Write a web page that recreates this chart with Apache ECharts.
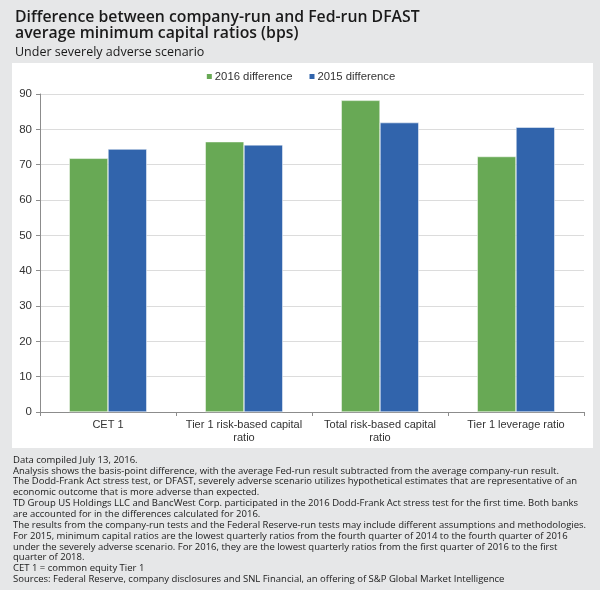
<!DOCTYPE html>
<html>
<head>
<meta charset="utf-8">
<script src="https://cdn.jsdelivr.net/npm/echarts@6/dist/echarts.min.js"></script>
<style>
  html, body { margin: 0; padding: 0; background: #e6e7e8; }
  #main { width: 600px; height: 590px; }
</style>
</head>
<body>
<div id="main"></div>
<script>
// categories and values (bps)
var categories = ['CET 1', 'Tier 1 risk-based capital\nratio', 'Total risk-based capital\nratio', 'Tier 1 leverage ratio'];
var diff2016 = [71.8, 76.5, 88.2, 72.3];
var diff2015 = [74.4, 75.6, 81.9, 80.6];
var yTicks = [0, 10, 20, 30, 40, 50, 60, 70, 80, 90];

var notes = [
    'Data compiled July 13, 2016.',
    'Analysis shows the basis-point difference, with the average Fed-run result subtracted from the average company-run result.',
    'The Dodd-Frank Act stress test, or DFAST, severely adverse scenario utilizes hypothetical estimates that are representative of an',
    'economic outcome that is more adverse than expected.',
    'TD Group US Holdings LLC and BancWest Corp. participated in the 2016 Dodd-Frank Act stress test for the first time. Both banks',
    'are accounted for in the differences calculated for 2016.',
    'The results from the company-run tests and the Federal Reserve-run tests may include different assumptions and methodologies.',
    'For 2015, minimum capital ratios are the lowest quarterly ratios from the fourth quarter of 2014 to the fourth quarter of 2016',
    'under the severely adverse scenario. For 2016, they are the lowest quarterly ratios from the first quarter of 2016 to the first',
    'quarter of 2018.',
    'CET 1 = common equity Tier 1',
    'Sources: Federal Reserve, company disclosures and SNL Financial, an offering of S&P Global Market Intelligence'
];

var chartFont = '"Liberation Sans", Arial, sans-serif';
var textFont = '"Open Sans", "Noto Sans", sans-serif';

var myChart = echarts.init(document.getElementById('main'));
var option = {
    backgroundColor: '#e6e7e8',
    animation: false,
    title: {
        text: 'Difference between company-run and Fed-run DFAST\naverage minimum capital ratios (bps)',
        subtext: 'Under severely adverse scenario',
        left: 10,
        top: 4,
        itemGap: 5,
        textStyle: {
            fontFamily: textFont,
            fontSize: 15.8,
            fontWeight: 600,
            color: '#1a1a1a',
            lineHeight: 16
        },
        subtextStyle: {
            fontFamily: textFont,
            fontSize: 12.5,
            color: '#1a1a1a',
            lineHeight: 13
        }
    },
    graphic: [
        {
            type: 'rect',
            z: -10,
            shape: { x: 12, y: 63, width: 581, height: 385 },
            style: { fill: '#ffffff' }
        },
        {
            type: 'text',
            left: 13,
            top: 454.6,
            style: {
                text: notes.join('\n'),
                font: '9.5px ' + textFont,
                lineHeight: 10.85,
                fill: '#1a1a1a'
            }
        }
    ],
    legend: {
        top: 71,
        padding: 0,
        left: 'center',
        icon: 'rect',
        itemWidth: 7,
        itemHeight: 7,
        itemGap: 15,
        textStyle: { fontFamily: chartFont, fontSize: 11.3, color: '#333', padding: [0, 0, 0, -3] },
        data: ['2016 difference', '2015 difference']
    },
    grid: {
        left: 40,
        right: 16,
        top: 94,
        bottom: 178
    },
    xAxis: {
        type: 'category',
        data: categories,
        axisLine: { lineStyle: { color: '#8c8c8c', width: 1 } },
        axisTick: { show: true, length: 4, lineStyle: { color: '#8c8c8c' } },
        axisLabel: {
            fontFamily: chartFont,
            fontSize: 11,
            color: '#333',
            margin: 6,
            lineHeight: 13,
            interval: 0
        }
    },
    yAxis: {
        type: 'value',
        min: yTicks[0],
        max: yTicks[yTicks.length - 1],
        interval: 10,
        axisLine: { show: true, lineStyle: { color: '#8c8c8c', width: 1 } },
        axisTick: { show: true, length: 4, lineStyle: { color: '#8c8c8c' } },
        splitLine: { lineStyle: { color: '#dcdcdc', width: 1 } },
        axisLabel: {
            fontFamily: chartFont,
            fontSize: 11.5,
            color: '#333',
            margin: 8
        }
    },
    series: [
        {
            name: '2016 difference',
            type: 'bar',
            data: diff2016,
            barGap: '0%',
            barCategoryGap: '43%',
            itemStyle: { color: '#68a955', borderColor: '#ffffff', borderWidth: 0.5 }
        },
        {
            name: '2015 difference',
            type: 'bar',
            data: diff2015,
            itemStyle: { color: '#3164ac', borderColor: '#ffffff', borderWidth: 0.5 }
        }
    ]
};
myChart.setOption(option);
</script>
</body>
</html>
